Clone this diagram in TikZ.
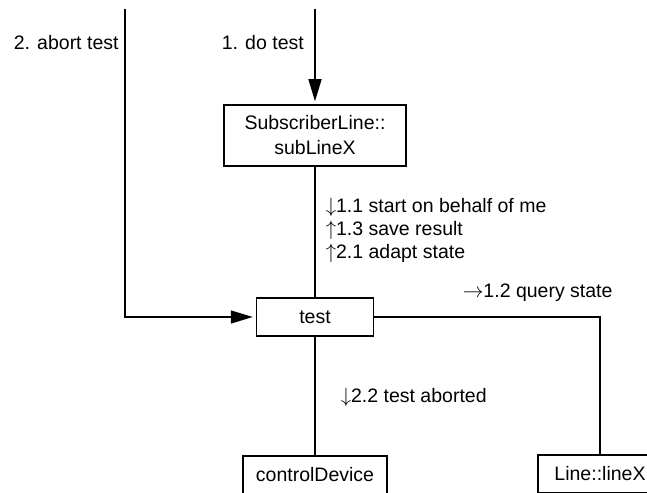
\documentclass[tikz,border=0pt]{standalone}
\usepackage{fontspec}
\setmainfont{Liberation Sans}
\usetikzlibrary{arrows.meta,positioning}

\begin{document}
\begin{tikzpicture}[x=1pt,y=-1pt,>={Triangle[length=22pt,width=13pt]},line width=1.5pt,
  font=\fontsize{19.5}{25}\selectfont,
  obj/.style={draw,rectangle,minimum height=38pt,align=center,inner sep=0pt},
  msg/.style={anchor=west,inner sep=0pt,align=left}]
  \useasboundingbox (0,0) rectangle (647,492);
  \clip (0,0) rectangle (647,492);

  \node [obj,minimum width=182pt,minimum height=61pt] (sub) at (315,135.5) {SubscriberLine::\\subLineX};
  \node [obj,minimum width=117pt] (tst) at (315,317) {test};
  \node [obj,minimum width=144pt] (ctrl) at (315,475) {controlDevice};
  \node [obj,minimum width=124pt] (line) at (600,474) {Line::lineX};

  \coordinate (abortin) at (125,9);
  \coordinate (doin) at (315,9);

  \draw[->,shorten >=3pt] (doin) -- (sub.north);
  \draw[->,shorten >=3pt] (abortin) |- (tst.west);
  \draw (sub.south) -- (tst.north);
  \draw (tst.east) -| (line.north);
  \draw (tst.south) -- (ctrl.north);

  \node [msg] (abortlbl) at (13,43) {2. abort test};
  \node [msg] (dolbl) at (221,43) {1. do test};
  \node [msg,font=\fontsize{19.5}{23}\selectfont] (sublbl) at (325,230) {$\downarrow$1.1 start on behalf of me\\$\uparrow$1.3 save result\\$\uparrow$2.1 adapt state};
  \node [msg] (querylbl) at (462,293) {$\rightarrow$1.2 query state};
  \node [msg] (abortedlbl) at (340,397) {$\downarrow$2.2 test aborted};
\end{tikzpicture}
\end{document}
